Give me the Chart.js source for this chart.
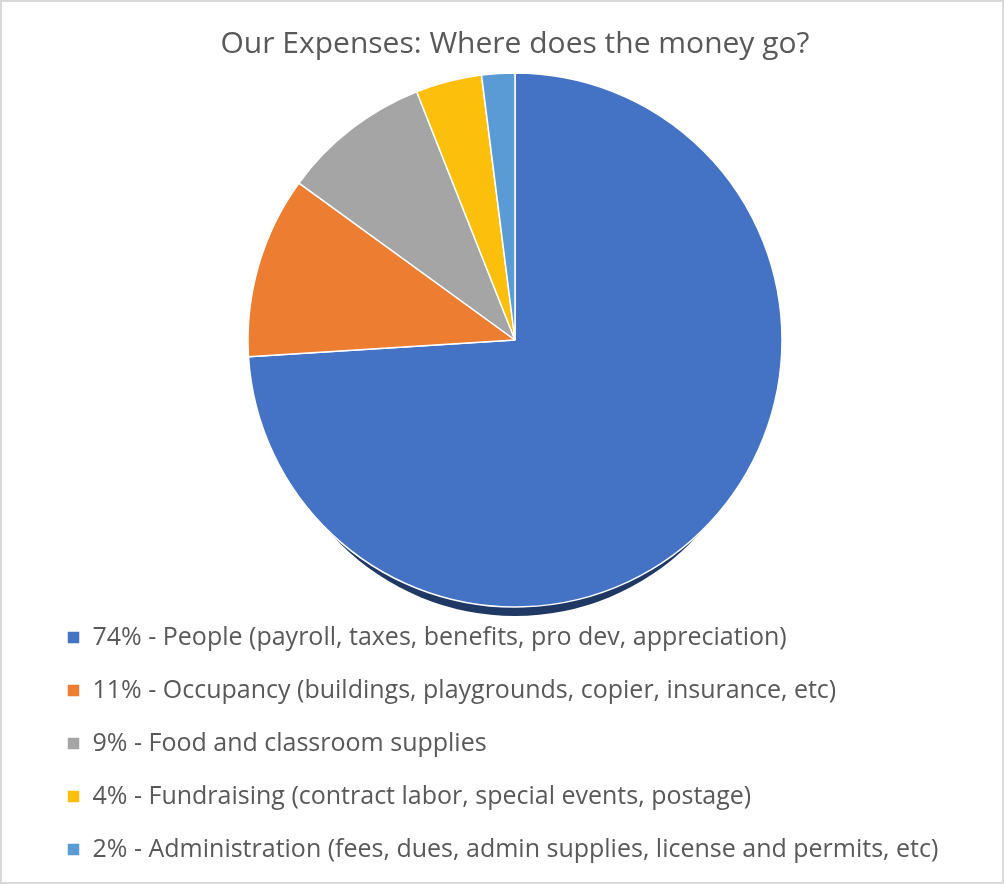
<!DOCTYPE html>
<html>
<head>
<meta charset="utf-8">
<script src="https://cdn.jsdelivr.net/npm/chart.js@4/dist/chart.umd.min.js"></script>
<style>
  html, body { margin: 0; padding: 0; background: #fff; }
  #wrap {
    position: relative;
    width: 1004px;
    height: 884px;
    box-sizing: border-box;
    border: 2px solid #d9d9d9;
    background: #fff;
  }
</style>
</head>
<body>
<div id="wrap"><canvas id="myChart"></canvas></div>
<script>
const titleText = 'Our Expenses: Where does the money go?';

const labels = [
  '74% - People (payroll, taxes, benefits, pro dev, appreciation)',
  '11% - Occupancy (buildings, playgrounds, copier, insurance, etc)',
  '9% - Food and classroom supplies',
  '4% - Fundraising (contract labor, special events, postage)',
  '2% - Administration (fees, dues, admin supplies, license and permits, etc)'
];

const values = [74, 11, 9, 4, 2];

const sliceColors = ['#4472c4', '#ed7d31', '#a5a5a5', '#fbbf0c', '#5b9bd5'];

// dark rim under the lower edge of the pie, like the office 3d look
const rimShadow = {
  id: 'rimShadow',
  beforeDatasetsDraw(chart) {
    const arc = chart.getDatasetMeta(0).data[0];
    if (!arc) return;
    const p = arc.getProps(['x', 'y', 'outerRadius'], true);
    const ctx = chart.ctx;
    ctx.save();
    ctx.fillStyle = '#1f3864';
    ctx.beginPath();
    ctx.arc(p.x, p.y + 29, p.outerRadius - 20, 0, Math.PI * 2);
    ctx.fill();
    ctx.restore();
  }
};

const data = {
  labels: labels,
  datasets: [{
    data: values,
    backgroundColor: sliceColors,
    borderColor: '#ffffff',
    borderWidth: 1.5,
    radius: 267,
    clip: false
  }]
};

const config = {
  type: 'pie',
  data: data,
  plugins: [rimShadow],
  options: {
    responsive: true,
    maintainAspectRatio: false,
    animation: false,
    layout: {
      padding: { left: 37, right: 11, top: 0, bottom: 10 }
    },
    plugins: {
      title: {
        display: true,
        text: titleText,
        color: '#595959',
        font: { family: 'Open Sans', size: 30, weight: 'normal' },
        padding: { top: 24, bottom: 21 }
      },
      legend: {
        position: 'bottom',
        align: 'start',
        labels: {
          color: '#595959',
          boxWidth: 13,
          boxHeight: 13,
          padding: 28,
          font: { family: 'Open Sans', size: 25 }
        }
      },
      tooltip: { enabled: false }
    }
  }
};

const myChart = new Chart(document.getElementById('myChart'), config);
</script>
</body>
</html>
